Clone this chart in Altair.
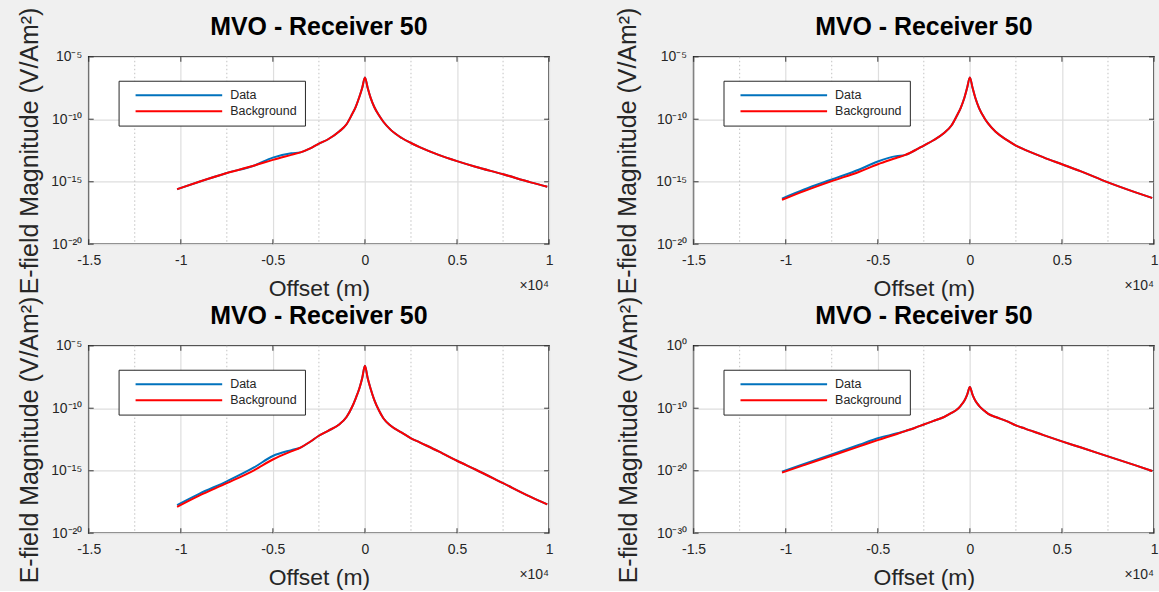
import altair as alt
import pandas as pd

# ---------------- data (offset in units of 1e4 m, values as log10 of |E|) -------------
OFFSET = [-1.02, -0.9, -0.75, -0.6, -0.5, -0.4, -0.35, -0.3, -0.25, -0.2, -0.14, -0.1,
          -0.07, -0.05, -0.03, -0.015, 0.0, 0.015, 0.03, 0.05, 0.077, 0.1, 0.14, 0.2,
          0.25, 0.3, 0.4, 0.5, 0.6, 0.75, 0.9, 0.99]

BG1 = [-15.6, -15.0, -14.3, -13.7, -13.25, -12.85, -12.65, -12.35, -11.95, -11.6, -10.98, -10.4,
       -9.6, -9.0, -8.2, -7.5, -6.65, -7.5, -8.25, -9.0, -9.7, -10.2, -10.85, -11.5,
       -11.9, -12.25, -12.85, -13.35, -13.8, -14.4, -15.05, -15.4]
DA1 = [-15.6, -15.0, -14.3, -13.7, -13.07, -12.72, -12.65, -12.35, -11.95, -11.6, -10.98, -10.4,
       -9.6, -9.0, -8.2, -7.5, -6.65, -7.5, -8.25, -9.0, -9.7, -10.2, -10.85, -11.5,
       -11.9, -12.25, -12.85, -13.35, -13.8, -14.4, -15.05, -15.4]

BG2 = [-16.45, -15.75, -14.95, -14.2, -13.6, -13.1, -12.85, -12.5, -12.1, -11.7, -11.1, -10.5,
       -9.7, -9.1, -8.3, -7.5, -6.65, -7.5, -8.3, -9.1, -9.85, -10.35, -11.0, -11.65,
       -12.1, -12.45, -13.05, -13.6, -14.15, -15.05, -15.85, -16.3]
DA2 = [-16.35, -15.62, -14.82, -14.02, -13.38, -12.95, -12.85, -12.5, -12.1, -11.7, -11.1, -10.5,
       -9.7, -9.1, -8.3, -7.5, -6.65, -7.5, -8.3, -9.1, -9.85, -10.35, -11.0, -11.65,
       -12.1, -12.45, -13.05, -13.6, -14.15, -15.05, -15.85, -16.3]

BG3 = [-17.9, -17.0, -16.0, -14.95, -14.1, -13.45, -13.15, -12.7, -12.2, -11.8, -11.3, -10.7,
       -9.9, -9.2, -8.4, -7.6, -6.6, -7.6, -8.4, -9.3, -10.2, -10.8, -11.4, -11.95,
       -12.4, -12.75, -13.45, -14.2, -14.9, -16.0, -17.1, -17.7]
DA3 = [-17.75, -16.85, -15.85, -14.72, -13.82, -13.35, -13.15, -12.7, -12.2, -11.8, -11.3, -10.7,
       -9.9, -9.2, -8.4, -7.6, -6.6, -7.6, -8.4, -9.3, -10.2, -10.8, -11.4, -11.95,
       -12.4, -12.75, -13.45, -14.2, -14.9, -16.0, -17.1, -17.7]

BG4 = [-20.3, -19.1, -17.6, -16.1, -15.1, -14.15, -13.65, -13.15, -12.6, -12.05, -11.4, -10.75,
       -10.2, -9.6, -8.8, -7.85, -6.6, -7.85, -8.8, -9.6, -10.35, -10.9, -11.4, -12.05,
       -12.75, -13.25, -14.3, -15.3, -16.25, -17.7, -19.15, -20.05]
DA4 = [-20.15, -18.9, -17.4, -15.85, -14.8, -14.05, -13.65, -13.15, -12.6, -12.05, -11.4, -10.75,
       -10.2, -9.6, -8.8, -7.85, -6.6, -7.85, -8.8, -9.6, -10.35, -10.9, -11.4, -12.05,
       -12.75, -13.25, -14.3, -15.3, -16.25, -17.7, -19.15, -20.05]

X_TICKS = [-1.5, -1.0, -0.5, 0.0, 0.5, 1.0]
X_MINOR = [-1.25, -0.75, -0.25, 0.25, 0.75]
Y_EXP_A = [-20, -15, -10, -5]
Y_EXP_B = [-30, -20, -10, 0]
SERIES = ["Data", "Background"]
TITLE = "MVO - Receiver 50"
X_TITLE = "Offset (m)"
Y_TITLE = "E-field Magnitude (V/Am²)"
X_SCALE_NOTE = "×10⁴"

# ---------------- style ----------------
W, H = 462, 188
BLUE, RED = "#0072BD", "#FF0000"
INK = "#262626"
FONT = "Liberation Sans"
SUP = str.maketrans("-0123456789", "⁻⁰¹²³⁴⁵⁶⁷⁸⁹")


def panel(bg, da, exps, ytitle_pad):
    ydom = [10.0 ** exps[0], 10.0 ** exps[-1]]
    yvals = [10.0 ** e for e in exps]
    yexpr = " : ".join(
        f"round(log(datum.value)/LN10) == {e} ? '10{str(e).translate(SUP)}'" for e in exps
    ) + " : ''"

    X = alt.X("x:Q",
              scale=alt.Scale(domain=[X_TICKS[0], X_TICKS[-1]], nice=False, zero=False),
              axis=alt.Axis(values=X_TICKS, labelExpr="toString(datum.value)",
                            title=X_TITLE, grid=True, gridColor="#dedede", gridWidth=1.2,
                            domain=False, ticks=False, tickSize=0, labelPadding=9,
                            titlePadding=10, labelFontSize=14, titleFontSize=23,
                            labelFlush=False))
    Y = alt.Y("y:Q",
              scale=alt.Scale(type="log", domain=ydom, nice=False),
              axis=alt.Axis(values=yvals, labelExpr=yexpr, title=Y_TITLE, grid=True,
                            gridColor="#dedede", gridWidth=1.2, domain=False, ticks=False,
                            tickSize=0, labelPadding=7, titlePadding=ytitle_pad,
                            labelFontSize=14, titleFontSize=25))

    color = alt.Color("s:N",
                      scale=alt.Scale(domain=SERIES, range=[BLUE, RED]),
                      legend=alt.Legend(orient="none", legendX=30, legendY=24, title=None,
                                        fillColor="white", strokeColor=INK, padding=8,
                                        symbolType="M-8,0L8,0", symbolSize=118,
                                        symbolStrokeWidth=2, symbolOffset=46,
                                        labelOffset=45, rowPadding=3, labelFontSize=12.5,
                                        labelColor=INK, labelFont=FONT))

    df_d = pd.DataFrame({"x": OFFSET, "y": [10.0 ** v for v in da], "s": SERIES[0]})
    df_b = pd.DataFrame({"x": OFFSET, "y": [10.0 ** v for v in bg], "s": SERIES[1]})
    df_minor = pd.DataFrame({"x": X_MINOR})
    df_xt = pd.DataFrame({"x": X_TICKS})
    df_yt = pd.DataFrame({"y": yvals})

    minor = alt.Chart(df_minor).mark_rule(color="#c2c2c2", strokeDash=[1.5, 2.5],
                                          strokeWidth=1).encode(x=X)
    xt_bot = alt.Chart(df_xt).mark_tick(orient="vertical", size=5, thickness=1.3,
                                        color=INK).encode(x=X, y=alt.value(H - 2.5))
    xt_top = alt.Chart(df_xt).mark_tick(orient="vertical", size=5, thickness=1.3,
                                        color=INK).encode(x=X, y=alt.value(2.5))
    yt_l = alt.Chart(df_yt).mark_tick(orient="horizontal", size=5, thickness=1.3,
                                      color=INK).encode(y=Y, x=alt.value(2.5))
    yt_r = alt.Chart(df_yt).mark_tick(orient="horizontal", size=5, thickness=1.3,
                                      color=INK).encode(y=Y, x=alt.value(W - 2.5))
    line_d = alt.Chart(df_d).mark_line(strokeWidth=2, interpolate="monotone").encode(
        x=X, y=Y, color=color)
    line_b = alt.Chart(df_b).mark_line(strokeWidth=2, interpolate="monotone").encode(
        x=X, y=Y, color=color)
    ttl = alt.Chart(pd.DataFrame({"t": [TITLE]})).mark_text(
        fontSize=25, fontWeight="bold", font=FONT, color="black", align="center",
        baseline="alphabetic").encode(text="t:N", x=alt.value(W / 2), y=alt.value(-22))
    note = alt.Chart(pd.DataFrame({"t": [X_SCALE_NOTE]})).mark_text(
        fontSize=14, font=FONT, color=INK, align="right",
        baseline="alphabetic").encode(text="t:N", x=alt.value(W), y=alt.value(H + 46))

    return alt.layer(minor, xt_bot, xt_top, yt_l, yt_r, line_d, line_b, ttl, note).properties(
        width=W, height=H)


p1 = panel(BG1, DA1, Y_EXP_A, 8)
p2 = panel(BG2, DA2, Y_EXP_A, 15)
p3 = panel(BG3, DA3, Y_EXP_A, 8)
p4 = panel(BG4, DA4, Y_EXP_B, 15)

chart = alt.concat(
    p1, p2, p3, p4, columns=2, spacing={"row": 102, "column": 145}, bounds="flush"
).resolve_scale(
    color="independent"
).properties(
    padding={"left": 17, "top": 5, "right": 0, "bottom": 0}
).configure(
    background="#f0f0f0",
    font=FONT,
).configure_view(
    stroke=INK, strokeWidth=1.5, fill="white"
).configure_axis(
    labelFont=FONT, titleFont=FONT, labelColor=INK, titleColor=INK, titleFontWeight="normal"
)

chart.save("out.html", embed_options={"renderer": "svg", "actions": False})
